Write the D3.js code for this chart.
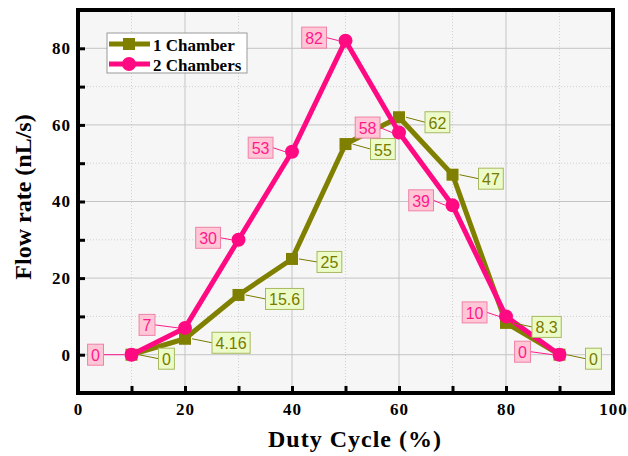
<!DOCTYPE html>
<html>
<head>
<meta charset="utf-8">
<script src="https://cdn.jsdelivr.net/npm/d3@7"></script>
<style>
  body { margin: 0; background: #fff; }
  .tick text { font-family: "Liberation Serif", "Times New Roman", serif; font-weight: bold; font-size: 17px; letter-spacing: 1px; fill: #000; }
</style>
</head>
<body>
<div id="chart"></div>
<script>
// data
const dutyCycle = [10, 20, 30, 40, 50, 60, 70, 80, 90];
const oneChamber = [0, 4.16, 15.6, 25, 55, 62, 47, 8.3, 0];
const twoChambers = [0, 7, 30, 53, 82, 58, 39, 10, 0];
const oneLabels = ["0", "4.16", "15.6", "25", "55", "62", "47", "8.3", "0"];
const twoLabels = ["0", "7", "30", "53", "82", "58", "39", "10", "0"];
const xTicks = [0, 10, 20, 30, 40, 50, 60, 70, 80, 90, 100];
const yTicks = [0, 10, 20, 30, 40, 50, 60, 70, 80];

// label placement (gap from point, vertical shift)
const twoLabelPos = [[28, 0], [30, -3], [18, -2], [19, -4], [19, -3], [19, -5], [19, -5], [19, -4], [29, -3]];
const oneLabelPos = [[27, 4], [27, 4], [27, 4], [25, 3], [25, 5], [26, 5], [26, 4], [26, 4], [26, 4]];

const W = 628, H = 456;
const margin = { top: 10, right: 15, bottom: 63, left: 78 };
const width = W - margin.left - margin.right;
const height = H - margin.top - margin.bottom;

const svg = d3.select("#chart").append("svg")
  .attr("width", W).attr("height", H);
const g = svg.append("g").attr("transform", `translate(${margin.left},${margin.top})`);

const x = d3.scaleLinear().domain([0, 100]).range([0, width]);
const y = d3.scaleLinear().domain([-10, 90]).range([height, 0]);

// plot background
g.append("rect").attr("width", width).attr("height", height).attr("fill", "#f6f6f6");

// grid
const gridMajorX = xTicks.filter(d => d % 20 === 0 && d > 0 && d < 100);
const gridMinorX = xTicks.filter(d => d % 20 !== 0);
const gridMajorY = yTicks.filter(d => d % 20 === 0);
const gridMinorY = yTicks.filter(d => d % 20 !== 0);

g.selectAll(".gmx").data(gridMinorX).enter().append("line")
  .attr("x1", d => x(d)).attr("x2", d => x(d)).attr("y1", 0).attr("y2", height)
  .attr("stroke", "#d0d0d0").attr("stroke-dasharray", "1,2");
g.selectAll(".gmy").data(gridMinorY).enter().append("line")
  .attr("y1", d => y(d)).attr("y2", d => y(d)).attr("x1", 0).attr("x2", width)
  .attr("stroke", "#d0d0d0").attr("stroke-dasharray", "1,2");
g.selectAll(".gMx").data(gridMajorX).enter().append("line")
  .attr("x1", d => x(d)).attr("x2", d => x(d)).attr("y1", 0).attr("y2", height)
  .attr("stroke", "#c4c4c4");
g.selectAll(".gMy").data(gridMajorY).enter().append("line")
  .attr("y1", d => y(d)).attr("y2", d => y(d)).attr("x1", 0).attr("x2", width)
  .attr("stroke", "#c4c4c4");

// axes with inward ticks
const xAxis = g.append("g").attr("transform", `translate(0,${height})`)
  .call(d3.axisBottom(x).tickValues(xTicks).tickSize(-7).tickPadding(10)
    .tickFormat(d => d % 20 === 0 ? d : ""));
const yAxis = g.append("g")
  .call(d3.axisLeft(y).tickValues(yTicks).tickSize(-7).tickPadding(7)
    .tickFormat(d => d % 20 === 0 ? d : ""));
[xAxis, yAxis].forEach(a => {
  a.select(".domain").remove();
  a.selectAll(".tick line").attr("stroke", "#000").attr("stroke-width", 3);
});

// series
const line = d3.line().x(d => x(d[0])).y(d => y(d[1]));
const s1 = dutyCycle.map((d, i) => [d, oneChamber[i]]);
const s2 = dutyCycle.map((d, i) => [d, twoChambers[i]]);
const olive = "#808000", pink = "#ff0a82";

g.append("path").datum(s1).attr("d", line).attr("fill", "none")
  .attr("stroke", olive).attr("stroke-width", 5).attr("stroke-linejoin", "round");
g.selectAll(".sq").data(s1).enter().append("rect")
  .attr("x", d => x(d[0]) - 6).attr("y", d => y(d[1]) - 6)
  .attr("width", 12).attr("height", 12).attr("fill", olive);

g.append("path").datum(s2).attr("d", line).attr("fill", "none")
  .attr("stroke", pink).attr("stroke-width", 5).attr("stroke-linejoin", "round");
g.selectAll(".ci").data(s2).enter().append("circle")
  .attr("cx", d => x(d[0])).attr("cy", d => y(d[1])).attr("r", 7).attr("fill", pink);

// data labels
function addLabels(series, texts, pos, side, style) {
  series.forEach((d, i) => {
    const px = x(d[0]), py = y(d[1]);
    const cy = py + pos[i][1];
    const lg = g.append("g");
    const lead = lg.append("line");
    const box = lg.append("rect");
    const t = lg.append("text").text(texts[i])
      .attr("font-family", "Liberation Sans, Arial, sans-serif").attr("font-size", 16)
      .attr("fill", style.text).attr("dominant-baseline", "central");
    const tw = t.node().getComputedTextLength();
    const bw = tw + 7, bh = 21;
    const bx = side < 0 ? px - pos[i][0] - bw : px + pos[i][0];
    const edge = side < 0 ? bx + bw : bx;
    lead.attr("x1", edge).attr("y1", cy).attr("x2", px + side * 7).attr("y2", py)
      .attr("stroke", style.lead).attr("stroke-width", 1);
    box.attr("x", bx).attr("y", cy - bh / 2).attr("width", bw).attr("height", bh)
      .attr("fill", style.fill).attr("stroke", style.stroke).attr("stroke-width", 1);
    t.attr("x", bx + 3.5).attr("y", cy + 1);
  });
}
addLabels(s1, oneLabels, oneLabelPos, 1, { text: "#7a7a00", fill: "#ecfcc8", stroke: "#a8b860", lead: "#7a7a00" });
addLabels(s2, twoLabels, twoLabelPos, -1, { text: "#ff1a8c", fill: "#ffc6d6", stroke: "#f080a8", lead: "#ff1a8c" });

// frame
g.append("rect").attr("width", width).attr("height", height)
  .attr("fill", "none").attr("stroke", "#000").attr("stroke-width", 4);

// legend
const legend = g.append("g").attr("transform", `translate(${107 - margin.left},${33 - margin.top})`);
legend.append("rect").attr("width", 140).attr("height", 40)
  .attr("fill", "#fff").attr("stroke", "#999").attr("stroke-width", 1);
const legendItems = [
  { name: "1 Chamber", color: olive, shape: "square" },
  { name: "2 Chambers", color: pink, shape: "circle" }
];
legendItems.forEach((it, i) => {
  const ly = 11 + i * 20;
  legend.append("line").attr("x1", 2).attr("x2", 43).attr("y1", ly).attr("y2", ly)
    .attr("stroke", it.color).attr("stroke-width", 5);
  if (it.shape === "square") {
    legend.append("rect").attr("x", 16).attr("y", ly - 6).attr("width", 12).attr("height", 12).attr("fill", it.color);
  } else {
    legend.append("circle").attr("cx", 22).attr("cy", ly).attr("r", 7).attr("fill", it.color);
  }
  legend.append("text").attr("x", 46).attr("y", ly + 1).attr("dominant-baseline", "central")
    .attr("font-family", "Liberation Serif, Times New Roman, serif").attr("font-weight", "bold")
    .attr("font-size", 17).text(it.name);
});

// axis titles
svg.append("text").attr("x", 355).attr("y", 447).attr("text-anchor", "middle")
  .attr("font-family", "Liberation Serif, Times New Roman, serif").attr("font-weight", "bold")
  .attr("font-size", 24).attr("letter-spacing", 1).text("Duty Cycle (%)");
svg.append("text").attr("transform", "translate(31,197) rotate(-90)").attr("text-anchor", "middle")
  .attr("font-family", "Liberation Serif, Times New Roman, serif").attr("font-weight", "bold")
  .attr("font-size", 24).text("Flow rate (nL/s)");
</script>
</body>
</html>
